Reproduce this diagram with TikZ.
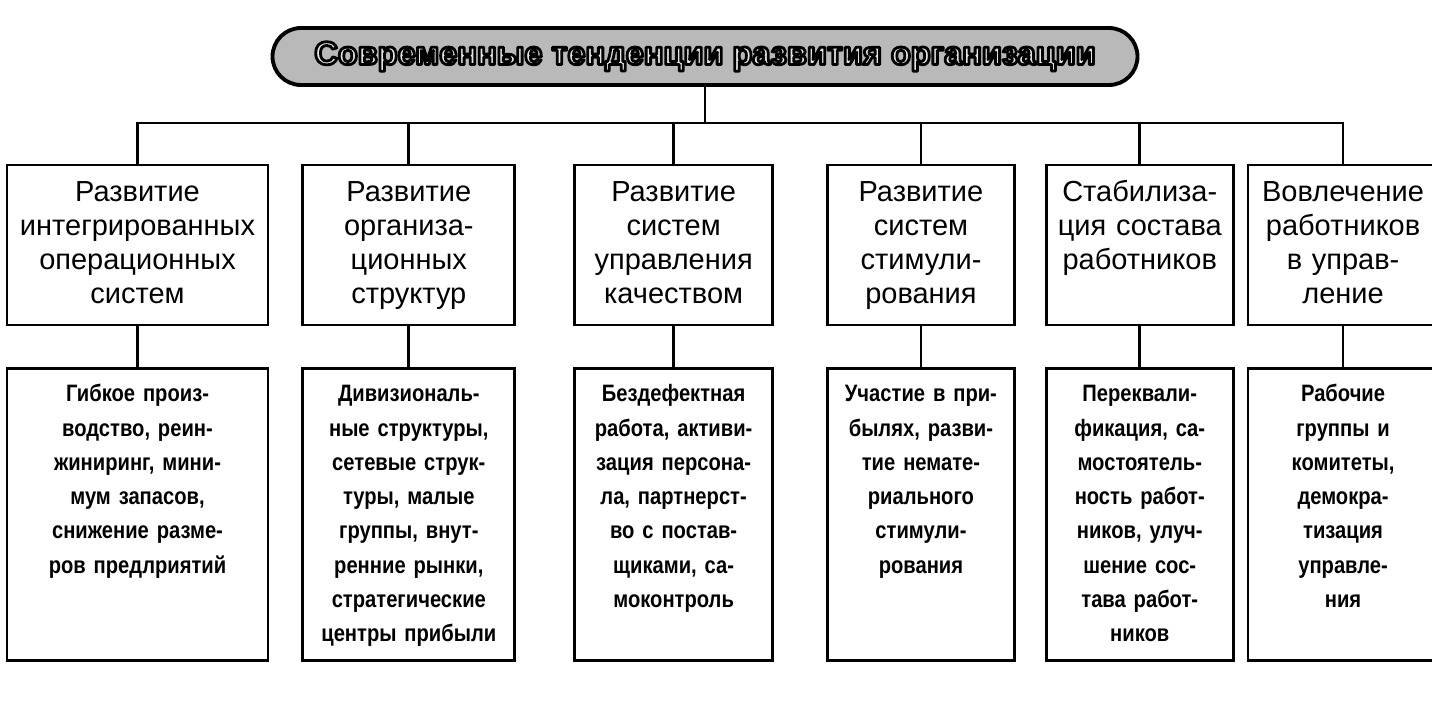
\documentclass[tikz,border=0pt]{standalone}
\usepackage{fontspec}
\setmainfont{Liberation Sans}
\newfontfamily\narrowfont{Liberation Sans}[FakeStretch=0.85]
\newcommand\outlined[1]{\special{pdf:literal direct 2 Tr 1.6 w 1 j 0 G}#1\special{pdf:literal direct 0 Tr}}
\usetikzlibrary{positioning}

\begin{document}
\begin{tikzpicture}[titlebox/.style={draw, line width=2.2pt, fill=gray!55, rounded corners=0.57cm, minimum width=17.3cm, minimum height=1.14cm, font=\fontsize{18.5pt}{21pt}\selectfont\bfseries},
    upbox/.style={draw, line width=1.6pt, inner sep=0pt, align=center, text width=#1, text height=0.74cm, text depth=2.46cm, font=\fontsize{16.5pt}{19.3pt}\selectfont},
    lowbox/.style={draw, line width=1.6pt, inner sep=0pt, align=center, text width=#1, text height=0.66cm, text depth=5.18cm, font=\narrowfont\bfseries\fontsize{13.5pt}{19.5pt}\selectfont},
    link/.style={line width=1.6pt}]

        \useasboundingbox (0,0) rectangle (28.64,-14.18);

        \node[titlebox] (title) at (14.1,-1.13) {\color{gray!20}\outlined{Современные тенденции развития организации}};

        \node[upbox=5.22cm] (up1) at (2.75,-4.9) {Развитие\\интегрированных\\операционных\\систем};
        \node[upbox=4.24cm] (up2) [right=0.64cm of up1] {Развитие\\организа-\\ционных\\структур};
        \node[upbox=3.96cm] (up3) [right=1.14cm of up2] {Развитие\\систем\\управления\\качеством};
        \node[upbox=3.74cm] (up4) [right=1.04cm of up3] {Развитие\\систем\\стимули-\\рования};
        \node[upbox=3.74cm] (up5) [right=0.58cm of up4] {Стабилиза-\\ция состава\\работников};
        \node[upbox=3.80cm] (up6) [right=0.24cm of up5] {Вовлечение\\работников\\в управ-\\ление};

        \node[lowbox=5.22cm] (low1) [below=0.82cm of up1] {Гибкое произ-\\водство, реин-\\жиниринг, мини-\\мум запасов,\\снижение разме-\\ров предлриятий};
        \node[lowbox=4.24cm] (low2) [below=0.82cm of up2] {Дивизиональ-\\ные структуры,\\сетевые струк-\\туры, малые\\группы, внут-\\ренние рынки,\\стратегические\\центры прибыли};
        \node[lowbox=3.96cm] (low3) [below=0.82cm of up3] {Бездефектная\\работа, активи-\\зация персона-\\ла, партнерст-\\во с постав-\\щиками, са-\\моконтроль};
        \node[lowbox=3.74cm] (low4) [below=0.82cm of up4] {Участие в при-\\былях, разви-\\тие немате-\\риального\\стимули-\\рования};
        \node[lowbox=3.74cm] (low5) [below=0.82cm of up5] {Переквали-\\фикация, са-\\мостоятель-\\ность работ-\\ников, улуч-\\шение сос-\\тава работ-\\ников};
        \node[lowbox=3.80cm] (low6) [below=0.82cm of up6] {Рабочие\\группы и\\комитеты,\\демокра-\\тизация\\управле-\\ния};

        \coordinate (bus) at (14.1,-2.46);
        \draw[link] (title) -- (bus);
        \draw[link] (up1.north) |- (bus) -| (up6.north);
        \foreach \i in {2,...,5}
            \draw[link] (up\i.north) -- (up\i.north |- bus);
        \foreach \i in {1,...,6}
            \draw[link] (up\i) -- (low\i);

\end{tikzpicture}
\end{document}
